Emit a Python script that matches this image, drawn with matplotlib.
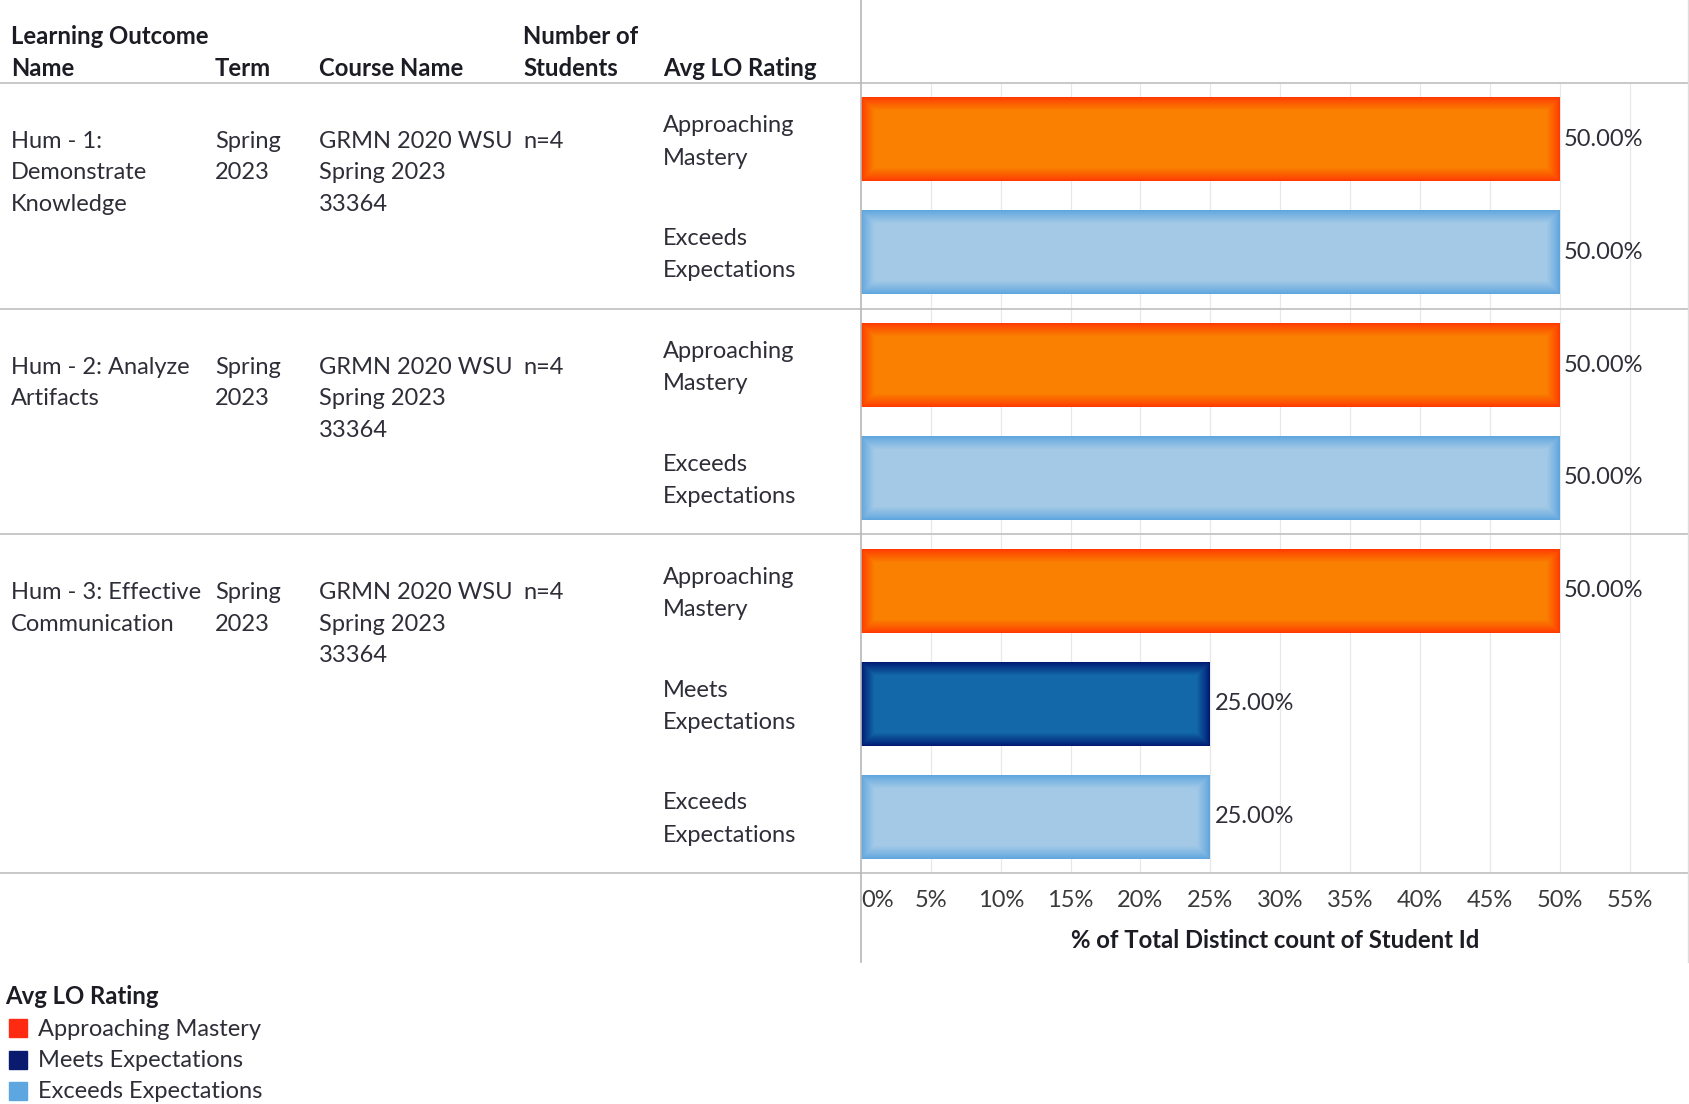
import numpy as np
import matplotlib as mpl
mpl.use("Agg")
import matplotlib.pyplot as plt
from matplotlib.lines import Line2D
from matplotlib.patches import Rectangle
from matplotlib.colors import to_rgb

plt.rcParams['font.family'] = ['Lato', 'DejaVu Sans']

# data
outcomes = ["Hum - 1:\nDemonstrate\nKnowledge", "Hum - 2: Analyze\nArtifacts", "Hum - 3: Effective\nCommunication"]
terms = ["Spring\n2023", "Spring\n2023", "Spring\n2023"]
courses = ["GRMN 2020 WSU\nSpring 2023\n33364"] * 3
n_students = ["n=4", "n=4", "n=4"]
ratings = [["Approaching Mastery", "Exceeds Expectations"],
           ["Approaching Mastery", "Exceeds Expectations"],
           ["Approaching Mastery", "Meets Expectations", "Exceeds Expectations"]]
pct = [[50.0, 50.0], [50.0, 50.0], [50.0, 25.0, 25.0]]
xticks = [0, 5, 10, 15, 20, 25, 30, 35, 40, 45, 50, 55]
headers = ["Learning Outcome\nName", "Term", "Course Name", "Number of\nStudents", "Avg LO Rating"]
legend_names = ["Approaching Mastery", "Meets Expectations", "Exceeds Expectations"]

# colours: (edge, centre) of the glow bars, plus legend swatch
bar_cols = {"Approaching Mastery": ("#ff3a00", "#f98000"),
            "Meets Expectations": ("#001a74", "#1268a8"),
            "Exceeds Expectations": ("#5fa6de", "#a3c9e7")}
legend_cols = {"Approaching Mastery": "#ff2a12",
               "Meets Expectations": "#0a1a6e",
               "Exceeds Expectations": "#5da6e0"}

W, H = 1689, 1104
fig = plt.figure(figsize=(W / 100, H / 100), dpi=100)
fig.patch.set_facecolor("white")

def fx(x): return x / W
def fy(y): return 1 - y / H

X0, TOP, BOT = 861, 83, 873
nslots = sum(len(r) for r in ratings)
ax = fig.add_axes([fx(X0), fy(BOT), fx(W - X0), (BOT - TOP) / H])
tab = fig.add_axes([0, fy(BOT), fx(X0), (BOT - TOP) / H], sharey=ax)
XMAX = 59.25
ax.set_xlim(0, XMAX)
ax.set_ylim(nslots, 0)
tab.set_xlim(0, X0)
tab.axis("off")
for s in ax.spines.values():
    s.set_visible(False)

slot_px = (BOT - TOP) / nslots
XPX = XMAX / (W - X0)
YPX = 1 / slot_px
TXT = "#2e2e38"
GRID = "#e8e8e8"
SEP = "#c4c4c4"
FS = 17.0
FSH = 17.2
LS = 31.5 / slot_px
LSR = 32.3 / slot_px

for t in xticks[1:]:
    ax.axvline(t, color=GRID, lw=0.9, zorder=0)

def mix(a, b, t):
    a, b = np.array(to_rgb(a)), np.array(to_rgb(b))
    return tuple(a + (b - a) * t)

def glow_bar(y, w, h, edge, mid, n=13):
    ax.barh(y, w, height=h, color=edge, lw=0, zorder=2)
    for k in range(1, n + 1):
        dx, dy = k * XPX, k * YPX
        c = mix(edge, mid, (k / n) ** 0.9)
        ax.barh(y, w - 2 * dx, left=dx, height=h - 2 * dy, color=c, lw=0, zorder=2)

cols_x = [11, 215, 319, 523, 663]
y = 0
for i, rlist in enumerate(ratings):
    start = y
    cells = [outcomes[i], terms[i], courses[i], n_students[i]]
    for cx, cell in zip(cols_x, cells):
        for j, line in enumerate(cell.split("\n")):
            tab.text(cx, start + 0.5 + j * LS + 2 / slot_px, line, va="center", ha="left",
                     fontsize=FS, color=TXT)
    for name, v in zip(rlist, pct[i]):
        yc = y + 0.5
        edge, mid = bar_cols[name]
        glow_bar(yc, v, 0.745, edge, mid)
        ax.annotate(f"{v:.2f}%", (v, yc), xytext=(3, 0), textcoords="offset points",
                    va="center", ha="left", fontsize=FS, color=TXT)
        words = name.split(" ")
        for j, line in enumerate(words):
            tab.text(cols_x[4], yc + (j - 0.5) * LSR + 2.5 / slot_px, line, va="center",
                     ha="left", fontsize=FS, color=TXT)
        y += 1
    for a in (ax, tab):
        a.axhline(y, color=SEP, lw=1.3, clip_on=False, zorder=3)
for a in (ax, tab):
    a.axhline(0, color=SEP, lw=1.3, clip_on=False, zorder=3)

# header
hy = [36, 68]
for cx, h in zip(cols_x, headers):
    lines = h.split("\n")
    for j, line in enumerate(lines):
        yy = hy[j + 2 - len(lines)]
        fig.text(fx(cx), fy(yy), line, va="center", ha="left", fontsize=FSH,
                 fontweight="bold", color="#1c1c24")

# x axis
ax.set_xticks(xticks, [f"{t}%" for t in xticks])
ax.tick_params(axis="x", length=0, pad=12, labelsize=FS, labelcolor="#3a3a3a")
ax.tick_params(axis="y", left=False, labelleft=False)
ax.get_xticklabels()[0].set_horizontalalignment("left")
ax.set_xlabel("% of Total Distinct count of Student Id", fontsize=FSH,
              fontweight="bold", color="#1c1c24", labelpad=13)

# frame lines
fig.add_artist(Line2D([fx(X0)] * 2, [1, fy(962)], color="#b8b8b8", lw=1.2))
fig.add_artist(Line2D([fx(W - 1)] * 2, [1, fy(962)], color="#dddddd", lw=1.0))

# legend
fig.text(fx(5), fy(997), "Avg LO Rating", va="center", ha="left", fontsize=FSH,
         fontweight="bold", color="#1c1c24")
for k, name in enumerate(legend_names):
    yy = 1029 + k * 31.5
    fig.add_artist(Rectangle((fx(9), fy(yy + 8)), 18 / W, 18 / H,
                             color=legend_cols[name], transform=fig.transFigure))
    fig.text(fx(38), fy(yy), name, va="center", ha="left", fontsize=FS, color=TXT)

fig.savefig("out.png", dpi=100)
